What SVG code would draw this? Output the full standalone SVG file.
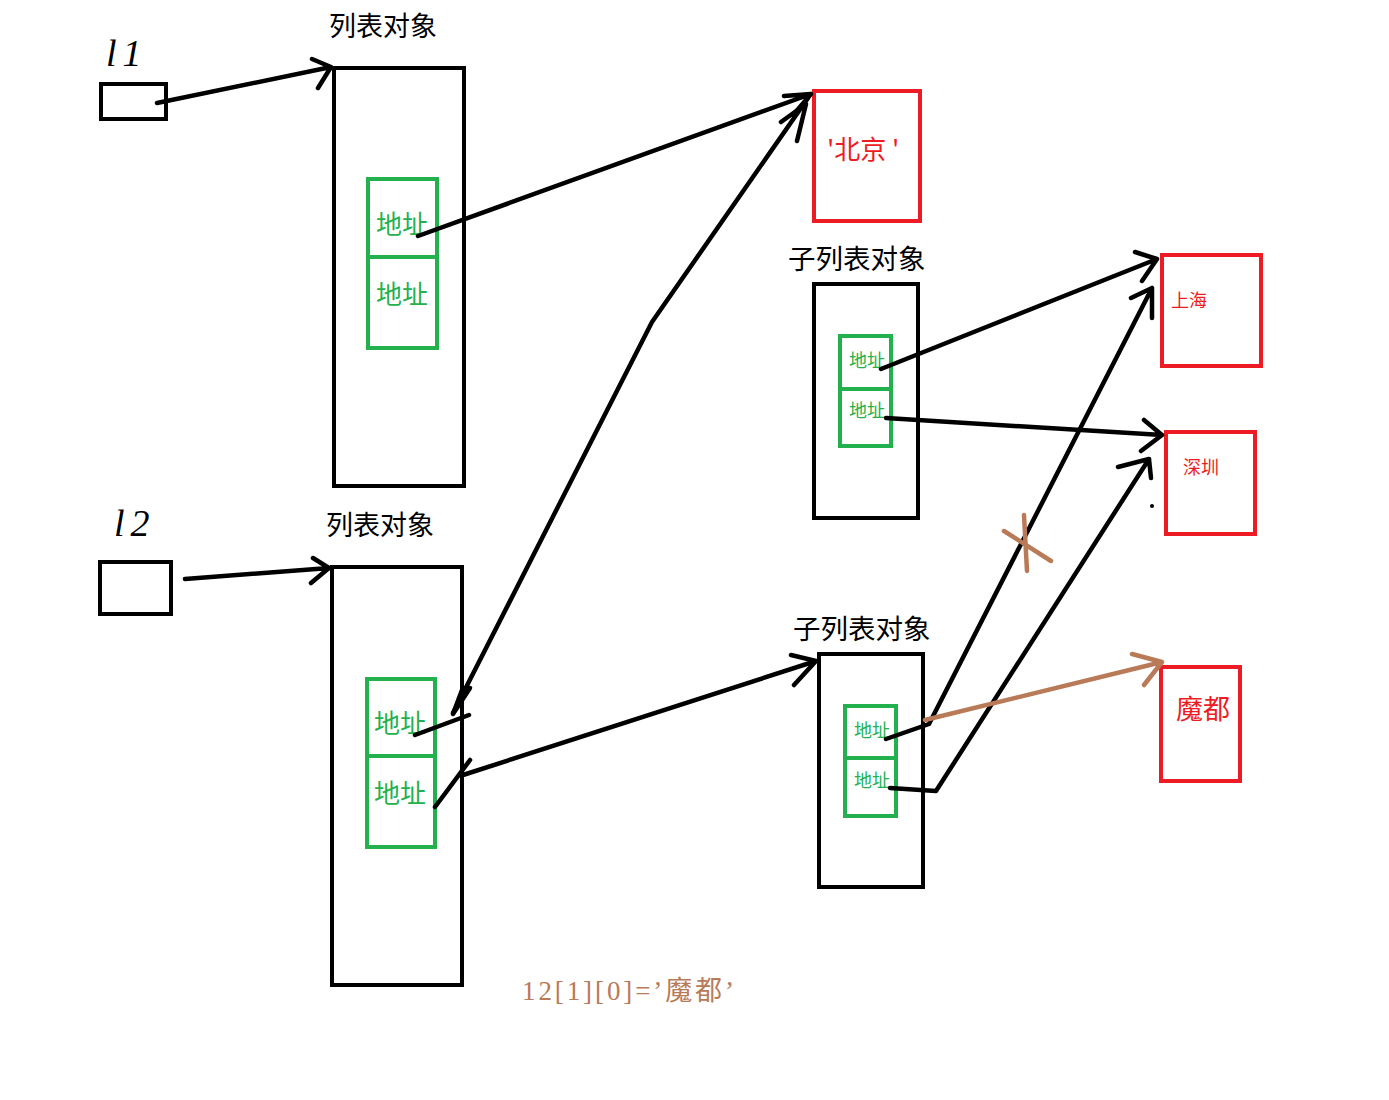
<svg xmlns="http://www.w3.org/2000/svg" width="1389" height="1100" viewBox="0 0 1389 1100">
<style>
.blk{fill:none;stroke:#000;stroke-width:4}
.grn{fill:none;stroke:#22b14c;stroke-width:4}
.red{fill:none;stroke:#ed1c24;stroke-width:4}
.ln{fill:none;stroke:#000;stroke-width:4.5;stroke-linecap:round;stroke-linejoin:round}
.br{fill:none;stroke:#b97a57;stroke-width:4.5;stroke-linecap:round;stroke-linejoin:round}
.t{font-family:"Noto Sans CJK SC","Noto Sans",sans-serif;fill:#000}
.g{font-family:"Noto Sans CJK SC","Noto Sans",sans-serif;fill:#22b14c}
.r{font-family:"Noto Sans CJK SC","Noto Sans",sans-serif;fill:#ed1c24}
.hw{font-family:"Liberation Serif",serif;font-style:italic;fill:#000;font-size:38px;letter-spacing:6px}
</style>
<rect width="1389" height="1100" fill="#fff"/>

<g id="l1">
<text class="hw" x="106" y="66">l1</text>
<rect class="blk" x="101" y="84" width="65" height="35"/>
</g>
<g id="l2">
<text class="hw" x="114" y="536">l2</text>
<rect class="blk" x="100" y="562" width="71" height="52"/>
</g>

<g id="list1">
<text class="t" x="329" y="36" font-size="27">列表对象</text>
<rect class="blk" x="334" y="68" width="130" height="418"/>
<rect class="grn" x="368" y="179" width="69" height="78"/>
<rect class="grn" x="368" y="257" width="69" height="91"/>
<text class="g" x="376" y="234" font-size="26">地址</text>
<text class="g" x="376" y="304" font-size="26">地址</text>
</g>

<g id="list2">
<text class="t" x="326" y="535" font-size="27">列表对象</text>
<rect class="blk" x="332" y="567" width="130" height="418"/>
<rect class="grn" x="367" y="679" width="68" height="77"/>
<rect class="grn" x="367" y="756" width="68" height="91"/>
<text class="g" x="374" y="733" font-size="26">地址</text>
<text class="g" x="374" y="803" font-size="26">地址</text>
</g>

<g id="beijing">
<rect class="red" x="814" y="91" width="106" height="130"/>
<text class="r" x="827" y="159" font-size="26">'北京 '</text>
</g>

<g id="sublist1">
<text class="t" x="788" y="269" font-size="27.5">子列表对象</text>
<rect class="blk" x="814" y="284" width="104" height="234"/>
<rect class="grn" x="840" y="336" width="51" height="53"/>
<rect class="grn" x="840" y="389" width="51" height="57"/>
<text class="g" x="849" y="367" font-size="18">地址</text>
<text class="g" x="849" y="417" font-size="18">地址</text>
</g>

<g id="sublist2">
<text class="t" x="793" y="639" font-size="27.5">子列表对象</text>
<rect class="blk" x="819" y="654" width="104" height="233"/>
<rect class="grn" x="845" y="706" width="51" height="52"/>
<rect class="grn" x="845" y="758" width="51" height="58"/>
<text class="g" x="854" y="737" font-size="18">地址</text>
<text class="g" x="854" y="787" font-size="18">地址</text>
</g>

<g id="shanghai">
<rect class="red" x="1162" y="255" width="99" height="111"/>
<text class="r" x="1171" y="307" font-size="18">上海</text>
</g>
<g id="shenzhen">
<rect class="red" x="1166" y="432" width="89" height="102"/>
<text class="r" x="1183" y="474" font-size="18">深圳</text>
</g>
<g id="modu">
<rect class="red" x="1161" y="667" width="79" height="114"/>
<text class="r" x="1176" y="719" font-size="27">魔都</text>
</g>

<g id="connectors">
<path class="ln" d="M157,103 L331,67 M312,59 L331,67 L318,88"/>
<path class="ln" d="M185,579 L329,568 M313,558 L329,568 L311,583"/>
<path class="ln" d="M418,236 L811,94 M784,96 L811,94 L794,114"/>
<path class="ln" d="M415,735 L469,715 M453,713 L652,322 L808,98 M781,122 L806,104 L797,141"/>
<path class="ln" d="M470,688 L453,714 L462,690"/>
<path class="ln" d="M435,807 L470,760 M463,775 L816,661 M791,655 L816,661 L794,685"/>
<path class="ln" d="M881,369 L1157,259 M1135,252 L1157,259 L1142,281"/>
<path class="ln" d="M886,418 L1162,435 M1144,420 L1162,435 L1141,451"/>
<path class="ln" d="M886,739 L929,724 L1152,288 M1131,298 L1152,288 L1152,318"/>
<path class="ln" d="M890,788 L936,791 L1149,459 M1118,467 L1149,459 L1151,478"/>
<path class="br" d="M925,720 L1162,662 M1132,654 L1162,662 L1144,685"/>
<path class="br" d="M1024,515 L1027,571 M1004,531 L1051,561"/>
<circle cx="1152" cy="506" r="2" fill="#000"/>
</g>

<text x="522" y="1000" font-family="'Liberation Serif','Noto Sans CJK SC',serif" font-size="27" fill="#b97a57" textLength="212" lengthAdjust="spacing">12[1][0]=’魔都’</text>
</svg>
